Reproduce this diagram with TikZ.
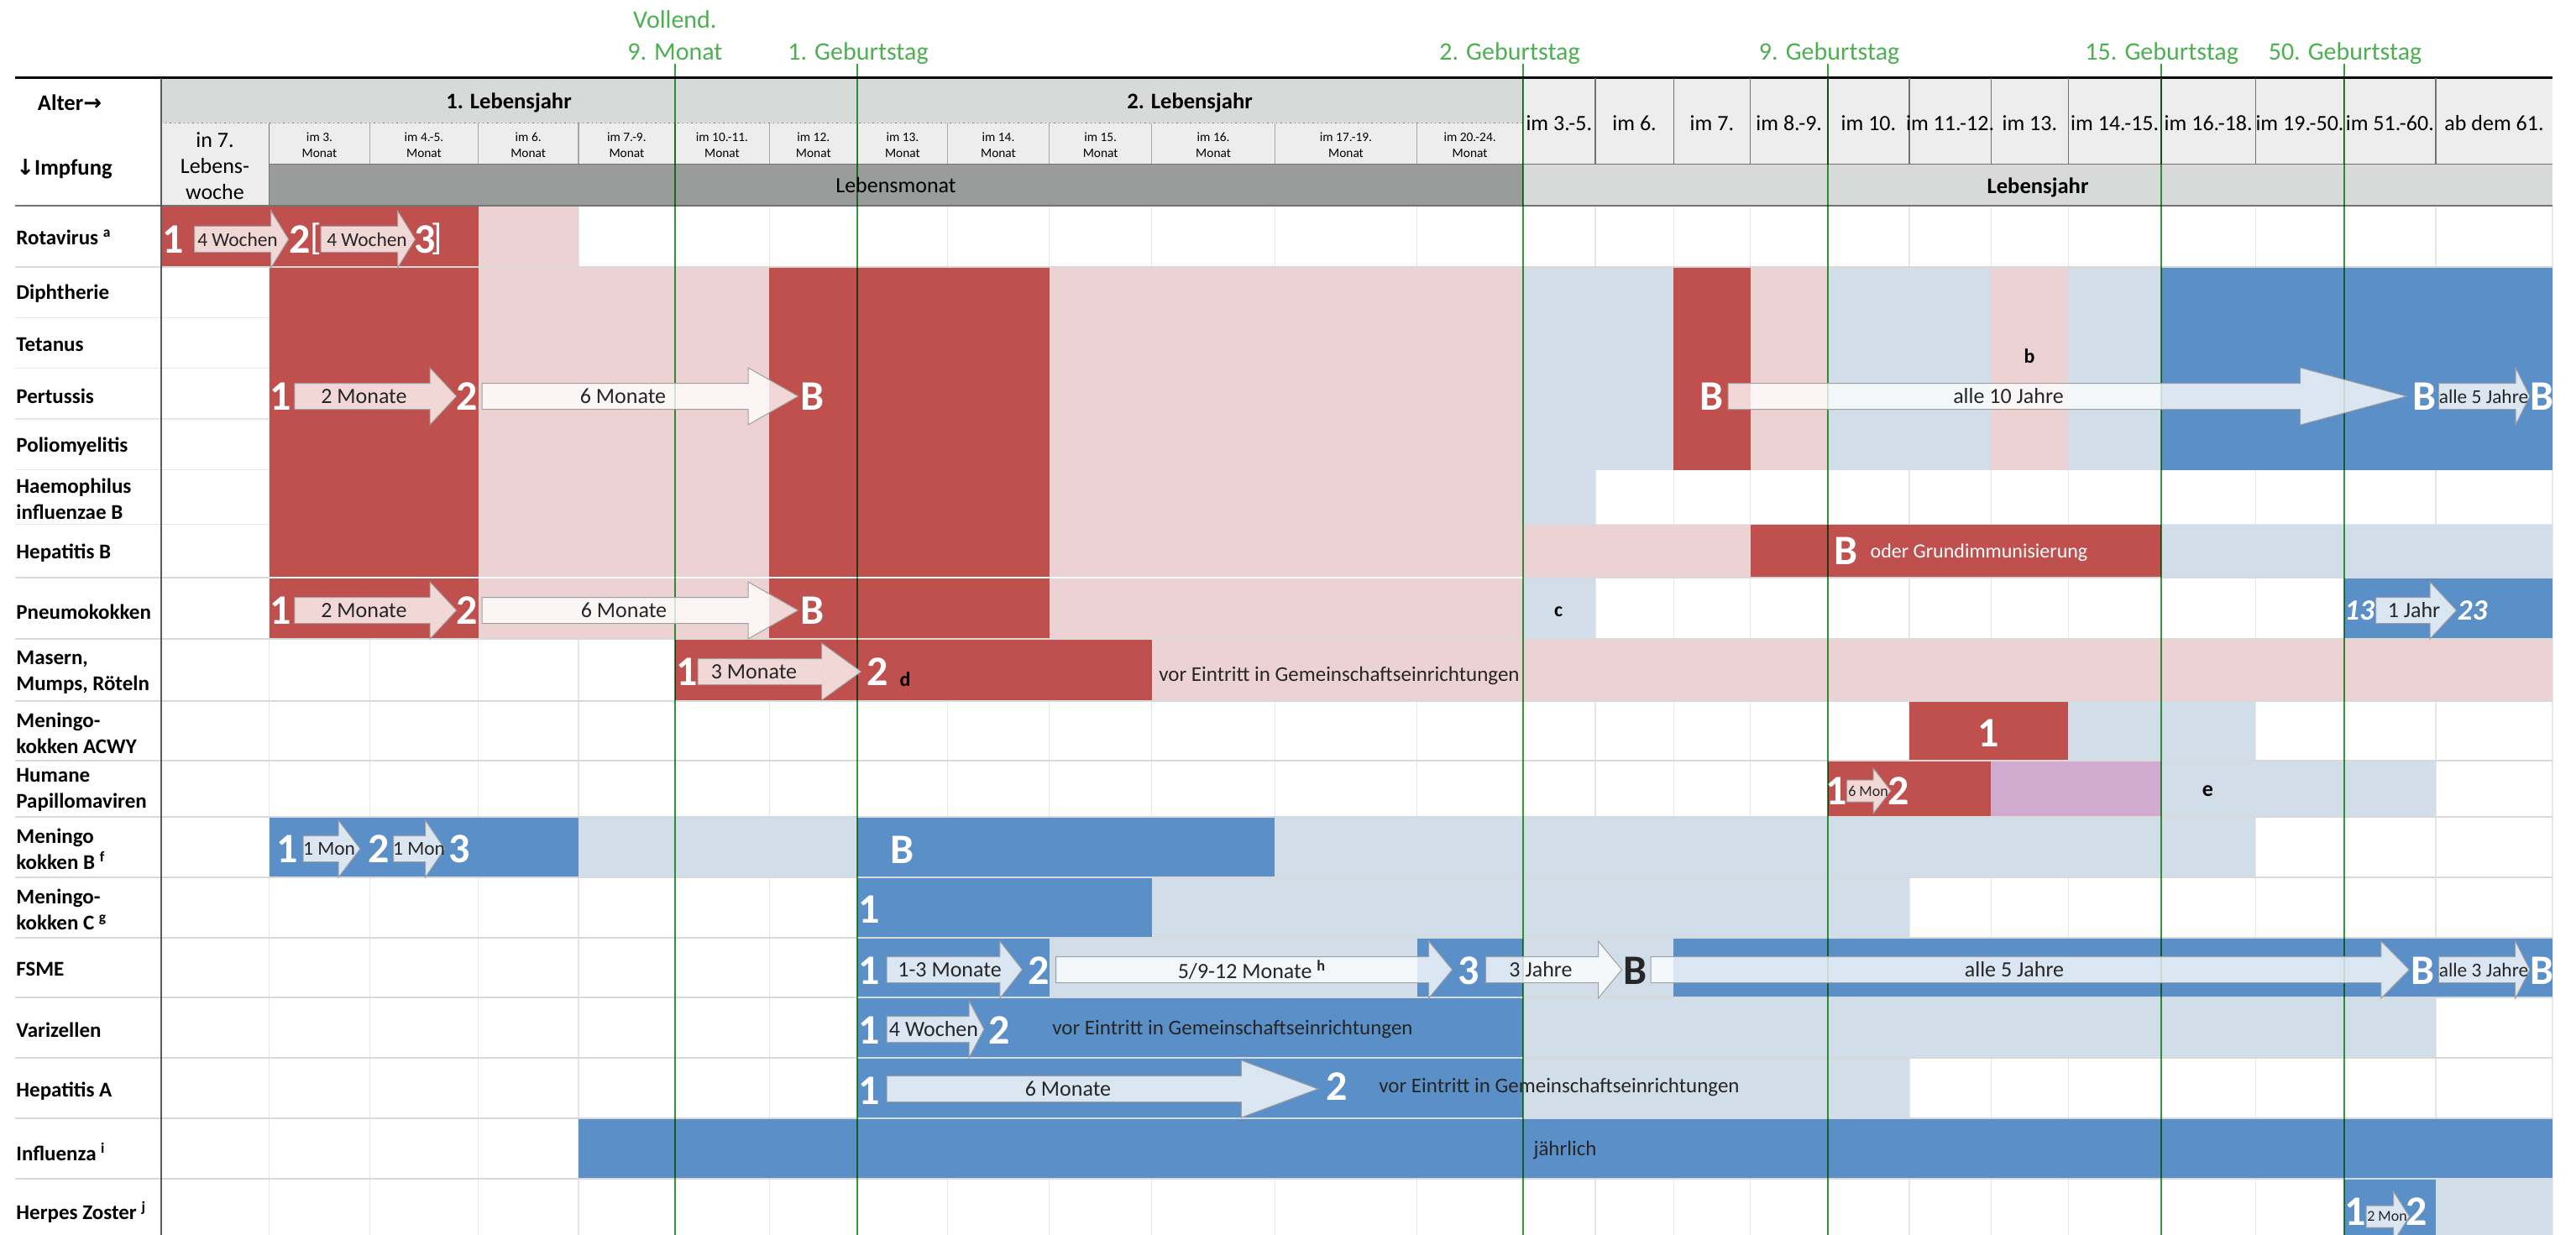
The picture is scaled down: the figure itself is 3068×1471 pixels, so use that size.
\documentclass[tikz,border=0pt]{standalone}
\usepackage{fontspec}
\setmainfont{Carlito}
\newfontfamily\arrowfont{DejaVu Sans}
\usetikzlibrary{positioning}

\definecolor{vred}{HTML}{C0504D}
\definecolor{vpink}{HTML}{EDD2D3}
\definecolor{vblue}{HTML}{5B8FC8}
\definecolor{vltblue}{HTML}{D1DEEA}
\definecolor{vmauve}{HTML}{D1AACF}
\definecolor{hdgray}{HTML}{D8DADA}
\definecolor{hdlight}{HTML}{EDEDED}
\definecolor{hddark}{HTML}{9A9C9C}
\definecolor{gridgray}{HTML}{E6E6E6}
\definecolor{sepgray}{HTML}{D9D9D9}
\definecolor{agegreen}{HTML}{37A23D}
\definecolor{agetext}{HTML}{4CB050}
\definecolor{inktext}{HTML}{262626}

\tikzstyle{vac} = [anchor=west, align=left, inner sep=0pt, font=\bfseries\fontsize{12.5}{15.5}\selectfont]
\tikzstyle{num} = [text=white, inner sep=0pt, font=\bfseries\fontsize{25}{25}\selectfont]
\tikzstyle{numdark} = [text=inktext, inner sep=0pt, font=\bfseries\fontsize{25}{25}\selectfont]
\tikzstyle{numital} = [text=white, inner sep=0pt, font=\bfseries\itshape\fontsize{17.5}{17.5}\selectfont]
\tikzstyle{bracket} = [text=white, inner sep=0pt, font=\fontsize{22}{22}\selectfont]
\tikzstyle{fnote} = [text=black, inner sep=0pt, font=\bfseries\fontsize{12}{12}\selectfont]
\tikzstyle{note} = [text=inktext, inner sep=0pt, font=\fontsize{12.5}{12.5}\selectfont]
\tikzstyle{whitetext} = [text=white, inner sep=0pt, font=\fontsize{12}{12}\selectfont]
\tikzstyle{arrowbody} = [draw=gray!75, line width=0.5pt, fill=white, fill opacity=0.78]
\tikzstyle{arrowtext} = [text=inktext, inner sep=0pt, font=\fontsize{13}{13}\selectfont]
\tikzstyle{arrowsmall} = [text=inktext, inner sep=0pt, font=\fontsize{11.7}{11.7}\selectfont]
\tikzstyle{arrowtiny} = [text=inktext, inner sep=0pt, font=\fontsize{9}{9}\selectfont]
\tikzstyle{monthhead} = [align=center, inner sep=0pt, font=\fontsize{7.7}{9.5}\selectfont]
\tikzstyle{colhead} = [inner sep=0pt, font=\fontsize{13}{15.5}\selectfont]
\tikzstyle{headbold} = [inner sep=0pt, font=\bfseries\fontsize{13.3}{13.3}\selectfont]
\tikzstyle{agelabel} = [text=agetext, anchor=base, inner sep=0pt, font=\fontsize{15}{15}\selectfont]
\tikzstyle{ageline} = [agegreen, line width=1pt]
\tikzstyle{cellline} = [gridgray, line width=0.6pt]
\tikzstyle{rowline} = [sepgray, line width=1pt]
\tikzstyle{hdline} = [black!55, line width=0.7pt]
\tikzstyle{hdsep} = [black!35, line width=0.6pt]

\newcommand{\bh}{15.5}
\newcommand{\hh}{34}
\newcommand{\shotarrow}[8]{%
  \draw[arrowbody] (#2,#5-\bh) -- (#3,#5-\bh) -- (#3,#5-\hh) -- (#4,#5) -- (#3,#5+\hh) -- (#3,#5+\bh) -- (#2,#5+\bh) -- cycle;
  \node[#7] (#1) at (#6,#5) {#8};}

\begin{document}
\begin{tikzpicture}[x=0.5pt, y=-0.5pt]
\useasboundingbox (0,0) rectangle (3068,1471);
\clip (0,0) rectangle (3068,1471);

\fill[hdgray] (191.5,92.7) rectangle (1813.7,146.7);
\fill[hdlight] (191.5,146.7) rectangle (1813.7,195.7);
\fill[hdlight] (191.5,195.7) rectangle (320.6,245);
\fill[hddark] (320.6,195.7) rectangle (1813.7,245);
\fill[hdlight] (1813.7,92.7) rectangle (3040,195.7);
\fill[hdgray] (1813.7,195.7) rectangle (3040,245);

\foreach \x in {320.6,440.5,569.6,688.9,803.9,916.2,1021.4,1128.4,1249.7,1371.8,1518.4,1687.5,1813.7,1900,1993.3,2084.5,2177,2273.9,2371.4,2463.3,2574.1,2686.3,2791.6,2901,3040}
  \draw[cellline] (\x,245) -- (\x,1471);
\foreach \y in {378.5,438.5,499,559.5,624.5}
  \draw[cellline] (17.5,\y) -- (3040,\y);

\fill[vred] (191.5,245) rectangle (569.6,318);
\fill[vpink] (569.6,245) rectangle (688.9,318);

\fill[vred] (320.6,318) rectangle (569.6,761.2);
\fill[vpink] (569.6,318) rectangle (916.2,761.2);
\fill[vred] (916.2,318) rectangle (1249.7,761.2);
\fill[vpink] (1249.7,318) rectangle (1813.7,761.2);

\fill[vltblue] (1813.7,318) rectangle (1993.3,559.5);
\fill[vred] (1993.3,318) rectangle (2084.5,559.5);
\fill[vpink] (2084.5,318) rectangle (2177,559.5);
\fill[vltblue] (2177,318) rectangle (2371.4,559.5);
\fill[vpink] (2371.4,318) rectangle (2463.3,559.5);
\fill[vltblue] (2463.3,318) rectangle (2574.1,559.5);
\fill[vblue] (2574.1,318) rectangle (3040,559.5);

\fill[vltblue] (1813.7,559.5) rectangle (1900,624.5);

\fill[vpink] (1813.7,624.5) rectangle (2084.5,688.4);
\fill[vred] (2084.5,624.5) rectangle (2574.1,688.4);
\fill[vltblue] (2574.1,624.5) rectangle (3040,688.4);

\fill[vltblue] (1813.7,688.4) rectangle (1900,761.2);
\fill[vblue] (2791.6,688.4) rectangle (3040,761.2);

\fill[vred] (803.9,761.2) rectangle (1371.8,835);
\fill[vpink] (1371.8,761.2) rectangle (3040,835);

\fill[vred] (2273.9,835) rectangle (2463.3,905.6);
\fill[vltblue] (2463.3,835) rectangle (2686.3,905.6);

\fill[vred] (2177,905.6) rectangle (2371.4,973.1);
\fill[vmauve] (2371.4,905.6) rectangle (2574.1,973.1);
\fill[vltblue] (2574.1,905.6) rectangle (2901,973.1);

\fill[vblue] (320.6,973.1) rectangle (688.9,1044.7);
\fill[vltblue] (688.9,973.1) rectangle (1021.4,1044.7);
\fill[vblue] (1021.4,973.1) rectangle (1518.4,1044.7);
\fill[vltblue] (1518.4,973.1) rectangle (2686.3,1044.7);

\fill[vblue] (1021.4,1044.7) rectangle (1371.8,1116.7);
\fill[vltblue] (1371.8,1044.7) rectangle (2273.9,1116.7);

\fill[vblue] (1021.4,1116.7) rectangle (1249.7,1188.3);
\fill[vltblue] (1249.7,1116.7) rectangle (1687.5,1188.3);
\fill[vblue] (1687.5,1116.7) rectangle (1813.7,1188.3);
\fill[vltblue] (1813.7,1116.7) rectangle (1993.3,1188.3);
\fill[vblue] (1993.3,1116.7) rectangle (3040,1188.3);

\fill[vblue] (1021.4,1188.3) rectangle (1813.7,1260);
\fill[vltblue] (1813.7,1188.3) rectangle (2901,1260);

\fill[vblue] (1021.4,1260) rectangle (1813.7,1332.3);
\fill[vltblue] (1813.7,1260) rectangle (2273.9,1332.3);

\fill[vblue] (688.9,1332.3) rectangle (3040,1403.9);

\fill[vblue] (2791.6,1403.9) rectangle (2901,1471);
\fill[vltblue] (2901,1403.9) rectangle (3040,1471);

\foreach \y in {318,688.4,761.2,835,905.6,973.1,1044.7,1116.7,1188.3,1260,1332.3,1403.9}
  \draw[rowline] (17.5,\y) -- (3040,\y);
\draw[white, line width=1pt] (320.6,688.4) -- (1813.7,688.4);

\draw[black, line width=1.5pt] (17.5,92.7) -- (3040,92.7);
\draw[gray, dotted, line width=0.7pt] (191.5,146.7) -- (1813.7,146.7);
\foreach \x in {440.5,569.6,688.9,803.9,916.2,1021.4,1128.4,1249.7,1371.8,1518.4,1687.5}
  \draw[hdsep] (\x,146.7) -- (\x,195.7);
\foreach \x in {1900,1993.3,2084.5,2177,2273.9,2371.4,2463.3,2574.1,2686.3,2791.6,2901}
  \draw[hdline] (\x,92.7) -- (\x,195.7);
\draw[hdline] (1813.7,92.7) -- (1813.7,245);
\draw[hdline] (320.6,146.7) -- (320.6,245);
\draw[hdline] (320.6,195.7) -- (3040,195.7);
\draw[hdline, line width=1pt] (17.5,245) -- (3040,245);
\draw[black!65, line width=1pt] (191.5,92.7) -- (191.5,1471);

\begin{scope}[blend mode=multiply]
\foreach \x in {803.9,1021.4,1813.7,2177,2574.1,2791.6}
  \draw[ageline] (\x,76) -- (\x,1471);
\end{scope}

\node[agelabel] (month9a) at (803.9,34) {Vollend.};
\node[agelabel] (month9) at (803.9,72) {9. Monat};
\node[agelabel] (bday1) at (1022,72) {1. Geburtstag};
\node[agelabel] (bday2) at (1798,72) {2. Geburtstag};
\node[agelabel] (bday9) at (2178.6,72) {9. Geburtstag};
\node[agelabel] (bday15) at (2574.7,72) {15. Geburtstag};
\node[agelabel] (bday50) at (2793,72) {50. Geburtstag};

\node[headbold] (alter) at (83,122.7) {Alter{\arrowfont\bfseries\fontsize{13}{13}\selectfont →}};
\node[headbold, anchor=west] (impfung) at (19,201) {{\arrowfont\bfseries\fontsize{13}{13}\selectfont ↓}Impfung};
\node[headbold] (year1) at (606,122.7) {1. Lebensjahr};
\node[headbold] (year2) at (1417,122.7) {2. Lebensjahr};
\node[colhead, align=center] (week7) at (256,198) {in 7.\\Lebens-\\woche};
\node[monthhead] (m3) at (380.5,172.8) {im 3.\\Monat};
\node[monthhead] (m45) at (505,172.8) {im 4.-5.\\Monat};
\node[monthhead] (m6) at (629.2,172.8) {im 6.\\Monat};
\node[monthhead] (m79) at (746.4,172.8) {im 7.-9.\\Monat};
\node[monthhead] (m1011) at (860,172.8) {im 10.-11.\\Monat};
\node[monthhead] (m12) at (968.8,172.8) {im 12.\\Monat};
\node[monthhead] (m13) at (1074.9,172.8) {im 13.\\Monat};
\node[monthhead] (m14) at (1189,172.8) {im 14.\\Monat};
\node[monthhead] (m15) at (1310.7,172.8) {im 15.\\Monat};
\node[monthhead] (m16) at (1445.1,172.8) {im 16.\\Monat};
\node[monthhead] (m1719) at (1603,172.8) {im 17.-19.\\Monat};
\node[monthhead] (m2024) at (1750.6,172.8) {im 20.-24.\\Monat};
\node[colhead] (y35) at (1856.8,146.7) {im 3.-5.};
\node[colhead] (y6) at (1946.6,146.7) {im 6.};
\node[colhead] (y7) at (2038.9,146.7) {im 7.};
\node[colhead] (y89) at (2130.7,146.7) {im 8.-9.};
\node[colhead] (y10) at (2225.4,146.7) {im 10.};
\node[colhead] (y1112) at (2322.6,146.7) {im 11.-12.};
\node[colhead] (y13) at (2417.3,146.7) {im 13.};
\node[colhead] (y1415) at (2518.7,146.7) {im 14.-15.};
\node[colhead] (y1618) at (2630.2,146.7) {im 16.-18.};
\node[colhead] (y1950) at (2739,146.7) {im 19.-50.};
\node[colhead] (y5160) at (2846.3,146.7) {im 51.-60.};
\node[colhead] (y61) at (2970.5,146.7) {ab dem 61.};
\node[colhead] (lmonat) at (1067,221) {Lebensmonat};
\node[headbold] (ljahr) at (2427,223) {Lebensjahr};

\node[vac] (rota) at (19,283) {Rotavirus \textsuperscript{a}};
\node[vac] (diph) at (19,350) {Diphtherie};
\node[vac] (teta) at (19,410) {Tetanus};
\node[vac] (pert) at (19,472) {Pertussis};
\node[vac] (polio) at (19,532) {Poliomyelitis};
\node[vac] (hib) at (19,594) {Haemophilus\\influenzae B};
\node[vac] (hepb) at (19,659) {Hepatitis B};
\node[vac] (pneu) at (19,729) {Pneumokokken};
\node[vac] (mmr) at (19,801) {Masern,\\Mumps, Röteln};
\node[vac] (acwy) at (19,873) {Meningo-\\kokken ACWY};
\node[vac] (hpv) at (19,941) {Humane\\Papillomaviren};
\node[vac] (menb) at (19,1011) {Meningo\\kokken B \textsuperscript{f}};
\node[vac] (menc) at (19,1083) {Meningo-\\kokken C \textsuperscript{g}};
\node[vac] (fsme) at (19,1154) {FSME};
\node[vac] (vzv) at (19,1227) {Varizellen};
\node[vac] (hepa) at (19,1300) {Hepatitis A};
\node[vac] (flu) at (19,1372) {Influenza \textsuperscript{i}};
\node[vac] (hz) at (19,1444) {Herpes Zoster \textsuperscript{j}};

\shotarrow{rota12}{231.5}{322.7}{343.7}{285}{283}{arrowsmall}{4 Wochen}
\shotarrow{rota23}{382}{473.5}{494.6}{285}{437}{arrowsmall}{4 Wochen}
\node[num] (rota1) at (206.5,285) {1};
\node[num] (rota2) at (357,285) {2};
\node[bracket] (rotaopen) at (376,285) {[};
\node[num] (rota3) at (506,285) {3};
\node[bracket] (rotaclose) at (520.5,285) {]};

\shotarrow{pert12}{350.8}{512}{543.7}{472}{433.5}{arrowtext}{2 Monate}
\shotarrow{pert2b}{574}{891}{950.5}{472}{742}{arrowtext}{6 Monate}
\shotarrow{pertb10}{2058}{2739.7}{2866}{472}{2392}{arrowtext}{alle 10 Jahre}
\shotarrow{pertb5}{2904.5}{2996}{3013}{472}{2958}{arrowsmall}{alle 5 Jahre}
\node[num] (pert1) at (334,472) {1};
\node[num] (pert2) at (556,472) {2};
\node[num] (pertb) at (968,472) {B};
\node[num] (pertb7) at (2038,472) {B};
\node[num] (pertb60) at (2887,472) {B};
\node[num] (pertb65) at (3027,472) {B};
\node[fnote] (fnb) at (2417,424) {b};

\node[num] (hepbb) at (2198,656) {B};
\node[whitetext] (hepbgi) at (2357,658) {oder Grundimmunisierung};

\shotarrow{pneu12}{350.8}{512}{543.7}{727}{433.5}{arrowtext}{2 Monate}
\shotarrow{pneu2b}{574}{891}{950.5}{727}{743}{arrowtext}{6 Monate}
\shotarrow{pneu60}{2829.5}{2894}{2925.6}{727}{2875}{arrowtext}{1 Jahr}
\node[num] (pneu1) at (334,727) {1};
\node[num] (pneu2) at (556,727) {2};
\node[num] (pneub) at (968,727) {B};
\node[fnote] (fnc) at (1856,729) {c};
\node[numital] (pneu13) at (2810,727) {13};
\node[numital] (pneu23) at (2944.5,727) {23};

\shotarrow{mmr12}{831}{978.6}{1025.6}{800}{898}{arrowtext}{3 Monate}
\node[num] (mmr1) at (818,800) {1};
\node[num] (mmr2) at (1045,800) {2};
\node[fnote] (fnd) at (1078,809) {d};
\node[note] (mmrkita) at (1595,805) {vor Eintritt in Gemeinschaftseinrichtungen};

\node[num] (acwy1) at (2368,873) {1};

{\renewcommand{\bh}{13}\renewcommand{\hh}{27}
\shotarrow{hpv12}{2199.5}{2231}{2252}{942}{2225}{arrowtiny}{6 Mon}}
\node[num] (hpv1) at (2187.6,942) {1};
\node[num] (hpv2) at (2261.5,942) {2};
\node[fnote, font=\bfseries\fontsize{13}{13}\selectfont] (fne) at (2629.5,942) {e};

\shotarrow{menb12}{361}{403}{429}{1011}{392}{arrowsmall}{1 Mon}
\shotarrow{menb23}{468.6}{506.5}{529.6}{1011}{499}{arrowsmall}{1 Mon}
\node[num] (menb1) at (342.6,1011) {1};
\node[num] (menb2) at (451,1011) {2};
\node[num] (menb3) at (547,1011) {3};
\node[num] (menbb) at (1075,1012) {B};

\node[num] (menc1) at (1035,1083) {1};

\shotarrow{fsme12}{1056}{1190.8}{1217.5}{1155}{1131}{arrowtext}{1-3 Monate}
\shotarrow{fsme23}{1257.5}{1701.5}{1729.6}{1155}{1491}{arrowtext}{5/9-12 Monate \textsuperscript{\bfseries h}}
\shotarrow{fsme3b}{1769.6}{1903.5}{1931.6}{1155}{1835}{arrowtext}{3 Jahre}
\shotarrow{fsmeb5}{1966}{2835.8}{2869.4}{1155}{2399}{arrowtext}{alle 5 Jahre}
\shotarrow{fsmeb3}{2904.5}{2995.7}{3013}{1155}{2958}{arrowsmall}{alle 3 Jahre}
\node[num] (fsme1) at (1035,1156) {1};
\node[num] (fsme2) at (1237,1156) {2};
\node[num] (fsme3) at (1749,1156) {3};
\node[numdark] (fsmeb) at (1947,1156) {B};
\node[num] (fsmeb50) at (2885.6,1156) {B};
\node[num] (fsmeb61) at (3027,1156) {B};

\shotarrow{vzv12}{1056}{1154}{1172}{1226}{1112}{arrowtext}{4 Wochen}
\node[num] (vzv1) at (1035,1227) {1};
\node[num] (vzv2) at (1190,1227) {2};
\node[note] (vzvkita) at (1468,1226) {vor Eintritt in Gemeinschaftseinrichtungen};

\shotarrow{hepa12}{1056}{1478.4}{1569.6}{1297}{1272}{arrowtext}{6 Monate}
\node[num] (hepa1) at (1035,1299) {1};
\node[num] (hepa2) at (1592.5,1294) {2};
\node[note] (hepakita) at (1857,1295) {vor Eintritt in Gemeinschaftseinrichtungen};

\node[note] (flujahr) at (1864,1370) {jährlich};

{\renewcommand{\bh}{13}\renewcommand{\hh}{30}
\shotarrow{hz12}{2818}{2850.5}{2869.5}{1449}{2843}{arrowtiny}{2 Mon}}
\node[num] (hz1) at (2805,1443) {1};
\node[num] (hz2) at (2878.6,1443) {2};
\end{tikzpicture}
\end{document}
